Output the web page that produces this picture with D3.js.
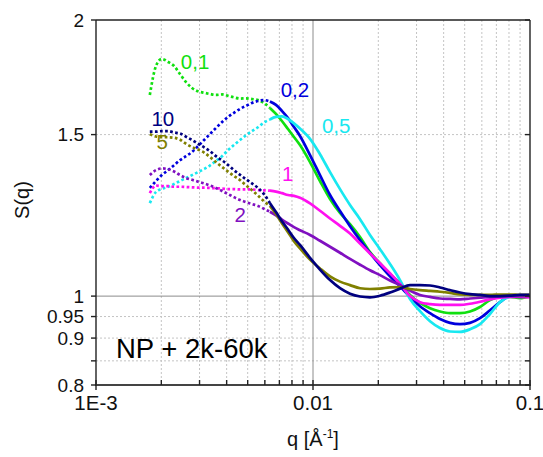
<!DOCTYPE html>
<html><head><meta charset="utf-8">
<script src="https://cdn.jsdelivr.net/npm/d3@7"></script>
<style>body{margin:0;background:#fff}svg{display:block}text{font-family:Arial,"Liberation Sans",sans-serif}</style>
</head><body><svg id="c" width="543" height="457"></svg>
<script>
const q = [0.00177,0.00189,0.00201,0.00215,0.00229,0.00244,0.00260,0.00277,0.00295,0.00315,0.00335,0.00357,0.00381,0.00406,0.00432,0.00461,0.00491,0.00523,0.00558,0.00594,0.00633,0.00675,0.00719,0.00767,0.00817,0.00871,0.00969,0.01077,0.01198,0.01332,0.01481,0.01647,0.01831,0.02036,0.02264,0.02518,0.02799,0.03112,0.03461,0.03848,0.04280,0.04758,0.05291,0.05884,0.06541,0.07273,0.08087,0.08994,0.0995];
const s01 = [1.657,1.782,1.814,1.800,1.782,1.746,1.711,1.686,1.672,1.666,1.661,1.657,1.659,1.653,1.647,1.642,1.643,1.640,1.636,1.624,1.604,1.580,1.552,1.521,1.491,1.461,1.400,1.335,1.276,1.232,1.198,1.160,1.117,1.086,1.057,1.033,1.003,0.983,0.970,0.962,0.958,0.958,0.962,0.973,0.990,0.998,0.998,0.995,1.000];
const s02 = [1.312,1.335,1.355,1.372,1.389,1.407,1.421,1.436,1.457,1.480,1.502,1.525,1.548,1.568,1.584,1.600,1.612,1.624,1.632,1.636,1.630,1.616,1.592,1.564,1.529,1.495,1.425,1.355,1.289,1.238,1.192,1.151,1.114,1.081,1.051,1.025,0.998,0.975,0.958,0.944,0.935,0.932,0.935,0.946,0.965,0.985,1.000,0.998,1.003];
const s05 = [1.263,1.299,1.309,1.316,1.325,1.335,1.345,1.355,1.365,1.376,1.388,1.404,1.421,1.443,1.461,1.480,1.497,1.513,1.528,1.546,1.558,1.568,1.570,1.560,1.543,1.523,1.484,1.428,1.365,1.308,1.257,1.213,1.166,1.125,1.084,1.041,0.993,0.963,0.939,0.923,0.915,0.914,0.920,0.932,0.956,0.985,0.998,1.000,1.000];
const s1 = [1.295,1.320,1.318,1.318,1.316,1.316,1.315,1.314,1.313,1.313,1.312,1.311,1.310,1.308,1.308,1.307,1.307,1.307,1.305,1.304,1.303,1.300,1.295,1.289,1.286,1.280,1.262,1.239,1.215,1.193,1.170,1.141,1.113,1.086,1.059,1.031,1.000,0.985,0.980,0.978,0.978,0.978,0.981,0.986,0.992,0.996,0.998,0.998,0.997];
const s2 = [1.355,1.372,1.378,1.375,1.367,1.355,1.345,1.339,1.333,1.327,1.320,1.312,1.302,1.292,1.282,1.273,1.266,1.260,1.254,1.245,1.236,1.225,1.212,1.200,1.189,1.180,1.166,1.149,1.132,1.115,1.098,1.082,1.067,1.054,1.040,1.028,1.014,1.003,0.998,0.994,0.993,0.992,0.994,0.996,0.998,0.999,1.000,1.000,1.000];
const s5 = [1.501,1.493,1.490,1.490,1.488,1.481,1.466,1.454,1.445,1.434,1.418,1.400,1.383,1.367,1.352,1.338,1.321,1.305,1.287,1.269,1.254,1.229,1.201,1.174,1.148,1.127,1.096,1.072,1.051,1.037,1.028,1.020,1.018,1.019,1.022,1.023,1.018,1.015,1.013,1.011,1.008,1.004,1.003,1.003,1.003,1.004,1.004,1.003,1.003];
const s10 = [1.511,1.511,1.513,1.513,1.508,1.504,1.492,1.480,1.466,1.453,1.439,1.421,1.406,1.390,1.372,1.356,1.341,1.327,1.312,1.292,1.263,1.235,1.207,1.182,1.157,1.137,1.101,1.069,1.041,1.020,1.006,0.999,0.997,1.001,1.009,1.019,1.028,1.028,1.027,1.022,1.015,1.009,1.005,1.003,1.000,1.000,1.001,1.003,1.003];
const seriesNames = ["0,1","0,2","0,5","1","2","5","10"];
const seriesColors = ["#10e010","#0000dd","#18e8f0","#ff10f0","#8010c0","#808000","#00007f"];
const seriesValues = [s01,s02,s05,s1,s2,s5,s10];
const labelPos = [[0.00246,1.770],[0.0071,1.650],[0.0110,1.505],[0.0072,1.335],[0.00435,1.205],[0.00190,1.446],[0.00180,1.533]];
const yTicks = [0.8,0.85,0.9,0.95,1,1.5,2];
const yTickLabels = ["0.8","","0.9","0.95","1","1.5","2"];
const xMajor = [0.001,0.01,0.1];
const xMajorLabels = ["1E-3","0.01","0.1"];

const svg = d3.select("#c");
const x = d3.scaleLog().domain([0.001,0.1]).range([96,530]);
const y = d3.scaleLog().domain([0.8,2]).range([385,20]);
const minor = [];
[0.001,0.01].forEach(d=>{for(let k=2;k<=9;k++) minor.push(d*k);});

// grid
const g = svg.append("g");
g.selectAll(".vg").data(minor).enter().append("line")
 .attr("x1",d=>x(d)).attr("x2",d=>x(d)).attr("y1",y(2)).attr("y2",y(0.8))
 .attr("stroke","#c4c4c4").attr("stroke-width",1).attr("stroke-dasharray","2,2");
g.selectAll(".hg").data([0.85,0.9,0.95,1.5]).enter().append("line")
 .attr("x1",x(0.001)).attr("x2",x(0.1)).attr("y1",d=>y(d)).attr("y2",d=>y(d))
 .attr("stroke","#c4c4c4").attr("stroke-width",1).attr("stroke-dasharray","2,2");
g.append("line").attr("x1",x(0.01)).attr("x2",x(0.01)).attr("y1",y(2)).attr("y2",y(0.8)).attr("stroke","#8c8c8c").attr("stroke-width",1);
g.append("line").attr("x1",x(0.001)).attr("x2",x(0.1)).attr("y1",y(1)).attr("y2",y(1)).attr("stroke","#8c8c8c").attr("stroke-width",1);

// series
const line = d3.line().x(d=>x(d[0])).y(d=>y(d[1])).curve(d3.curveMonotoneX);
const split = 20;
seriesValues.forEach((vals,i)=>{
  const pts = q.map((qq,j)=>[qq,vals[j]]);
  svg.append("path").attr("d",line(pts.slice(0,split+1))).attr("fill","none")
    .attr("stroke",seriesColors[i]).attr("stroke-width",2.7).attr("stroke-dasharray","2.7,2.4");
  svg.append("path").attr("d",line(pts.slice(split))).attr("fill","none")
    .attr("stroke",seriesColors[i]).attr("stroke-width",2.7);
});

// frame
const ax = svg.append("g").attr("stroke","#222").attr("stroke-width",1.4);
ax.append("line").attr("x1",x(0.001)).attr("x2",x(0.001)).attr("y1",y(2)).attr("y2",y(0.8));
ax.append("line").attr("x1",x(0.1)).attr("x2",x(0.1)).attr("y1",y(2)).attr("y2",y(0.8));
ax.append("line").attr("x1",x(0.001)).attr("x2",x(0.1)).attr("y1",y(2)).attr("y2",y(2));
ax.append("line").attr("x1",x(0.001)-1).attr("x2",x(0.1)+1).attr("y1",y(0.8)).attr("y2",y(0.8)).attr("stroke","#444").attr("stroke-width",2);
ax.selectAll(".yt").data(yTicks).enter().append("line")
 .attr("x1",x(0.001)-5).attr("x2",x(0.001)).attr("y1",d=>y(d)).attr("y2",d=>y(d));
ax.selectAll(".yr").data(yTicks).enter().append("line")
 .attr("x1",x(0.1)-5).attr("x2",x(0.1)).attr("y1",d=>y(d)).attr("y2",d=>y(d));
ax.selectAll(".xm").data(xMajor).enter().append("line")
 .attr("x1",d=>x(d)).attr("x2",d=>x(d)).attr("y1",y(0.8)-5).attr("y2",y(0.8)+5);
ax.selectAll(".xn").data(minor).enter().append("line")
 .attr("x1",d=>x(d)).attr("x2",d=>x(d)).attr("y1",y(0.8)-5).attr("y2",y(0.8));

svg.selectAll(".yl").data(yTicks).enter().append("text")
 .attr("x",84).attr("y",d=>y(d)+6.5).attr("text-anchor","end").attr("font-size",19)
 .attr("fill","#111").text((d,i)=>yTickLabels[i]);
svg.selectAll(".xl").data(xMajor).enter().append("text")
 .attr("x",d=>x(d)).attr("y",410).attr("text-anchor","middle").attr("font-size",20.5)
 .attr("fill","#111").text((d,i)=>xMajorLabels[i]);

svg.append("text").attr("transform","translate(29,200) rotate(-90)").attr("text-anchor","middle")
 .attr("font-size",20).attr("fill","#111").text("S(q)");
const xt = svg.append("text").attr("x",313).attr("y",446).attr("text-anchor","middle").attr("font-size",20).attr("fill","#111");
xt.append("tspan").text("q [Å");
xt.append("tspan").attr("dy",-8).attr("font-size",12).text("-1");
xt.append("tspan").attr("dy",8).text("]");

svg.selectAll(".sl").data(seriesNames).enter().append("text")
 .attr("x",(d,i)=>x(labelPos[i][0])).attr("y",(d,i)=>y(labelPos[i][1]))
 .attr("font-size",20.5).attr("fill",(d,i)=>seriesColors[i]).text(d=>d);

svg.append("text").attr("x",116).attr("y",358).attr("font-size",27.5).attr("fill","#000").text("NP + 2k-60k");
</script></body></html>
